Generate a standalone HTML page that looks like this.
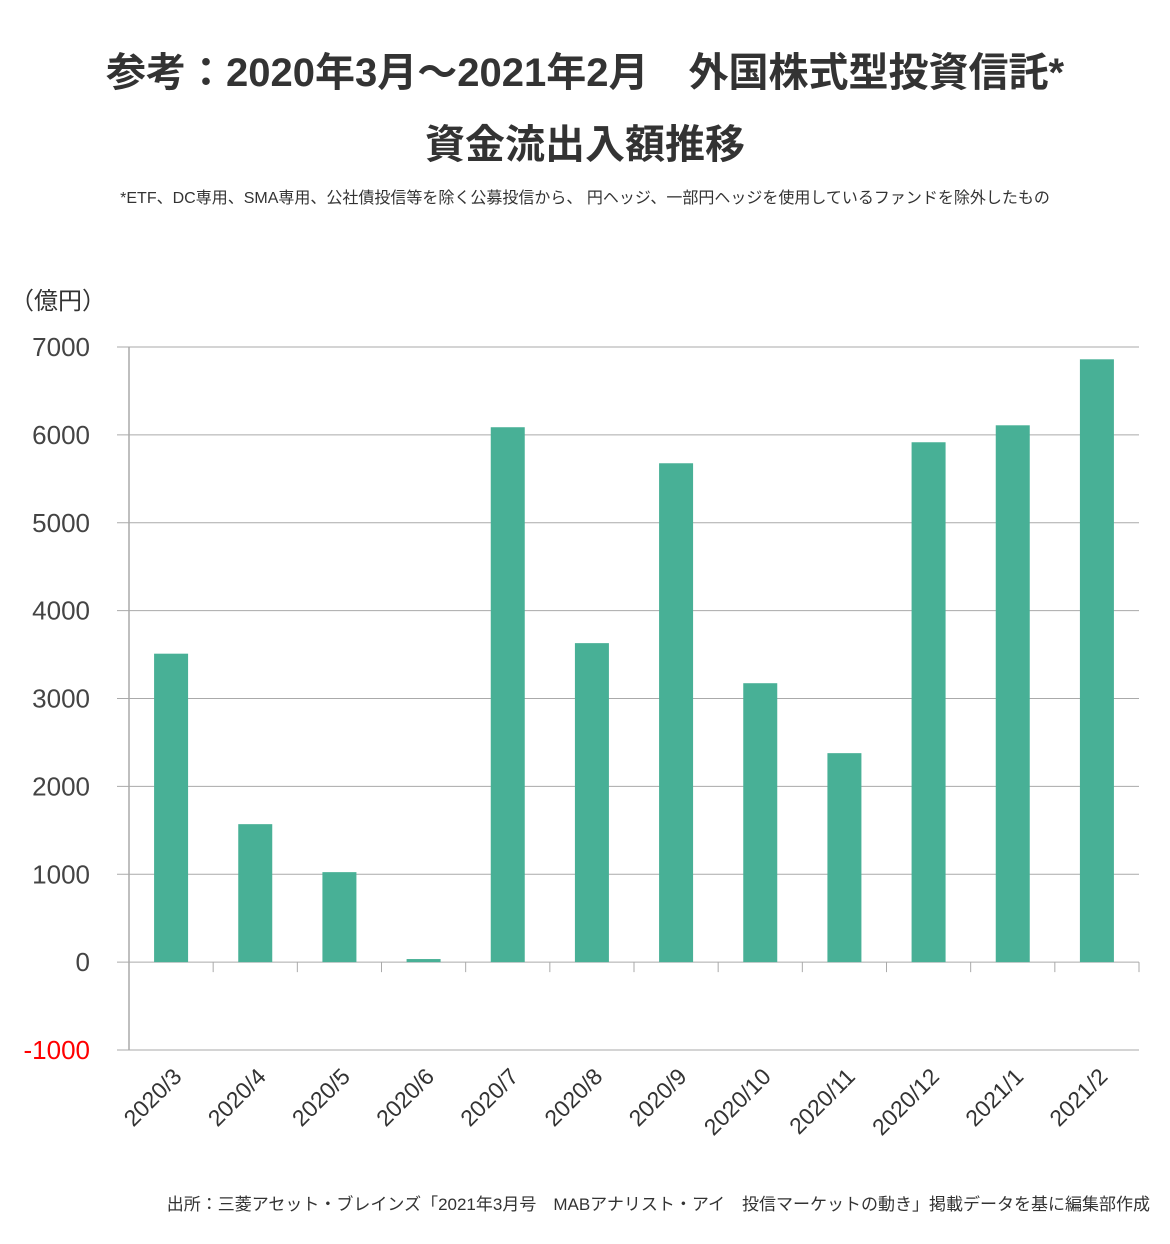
<!DOCTYPE html>
<html><head><meta charset="utf-8"><style>
body{margin:0;background:#fff;width:1170px;height:1239px;overflow:hidden;font-family:"Liberation Sans","Noto Sans CJK JP",sans-serif;}
</style></head><body>
<svg width="1170" height="1239" xmlns="http://www.w3.org/2000/svg" font-family="Liberation Sans, Noto Sans CJK JP, sans-serif">
<text x="585" y="86" text-anchor="middle" font-size="40" font-weight="bold" fill="#333">参考：2020年3月～2021年2月　外国株式型投資信託*</text>
<text x="585" y="158" text-anchor="middle" font-size="40" font-weight="bold" fill="#333">資金流出入額推移</text>
<text x="585" y="203" text-anchor="middle" font-size="16" fill="#333">*ETF、DC専用、SMA専用、公社債投信等を除く公募投信から、 円ヘッジ、一部円ヘッジを使用しているファンドを除外したもの</text>
<text x="10" y="309" font-size="24" fill="#333">（億円）</text>
<g id="grid"></g>
<g id="bars"></g>
<g id="xl"></g>
<text x="1150" y="1210" text-anchor="end" font-size="17" fill="#333">出所：三菱アセット・ブレインズ「2021年3月号　MABアナリスト・アイ　投信マーケットの動き」掲載データを基に編集部作成</text>
</svg>
<script>
const categories=["2020/3","2020/4","2020/5","2020/6","2020/7","2020/8","2020/9","2020/10","2020/11","2020/12","2021/1","2021/2"];
const values=[3510,1570,1024,35,6087,3630,5677,3174,2378,5916,6109,6860];
const yTicks=[-1000,0,1000,2000,3000,4000,5000,6000,7000];
const NS="http://www.w3.org/2000/svg";
const L=129,R=1139,yMin=-1000,yMax=7000,pTop=347,pBot=1050;
const y=v=>pBot-(v-yMin)/(yMax-yMin)*(pBot-pTop);
const cw=(R-L)/categories.length;
const x=i=>L+cw*i;
function mk(t,a){const e=document.createElementNS(NS,t);for(const k in a)e.setAttribute(k,a[k]);return e;}
const g=document.getElementById('grid');
yTicks.forEach(v=>{
 const ln=mk('line',{x1:117,x2:R,y1:y(v),y2:y(v),stroke:'#aaa','stroke-width':1});
 
 
 g.appendChild(ln);
 const t=mk('text',{x:90,y:y(v)+9,'text-anchor':'end','font-size':26,fill:v<0?'#f00':'#444'});
 t.textContent=v;
 
 
 g.appendChild(t);
});
const ax=mk('line',{x1:L,x2:L,y1:pTop,y2:pBot,stroke:'#aaa','stroke-width':1.5});


g.appendChild(ax);
for(let i=1;i<=categories.length;i++){
 const tk=mk('line',{x1:x(i),x2:x(i),y1:y(0),y2:y(0)+10,stroke:'#aaa','stroke-width':1});
 
 
 g.appendChild(tk);
}
const b=document.getElementById('bars'),xl=document.getElementById('xl');
values.forEach((v,i)=>{
 const cx=x(i)+cw/2,bw=34;
 const r=mk('rect',{x:cx-bw/2,y:Math.min(y(v),y(0)),width:bw,height:Math.abs(y(0)-y(v)),fill:'#48b096'});
 
 
 b.appendChild(r);
 const t=mk('text',{x:cx+12,y:1078,'text-anchor':'end','font-size':23,fill:'#333',transform:`rotate(-45 ${cx+12} 1078)`});
 t.textContent=categories[i];
 
 
 xl.appendChild(t);
});
</script>
</body></html>
